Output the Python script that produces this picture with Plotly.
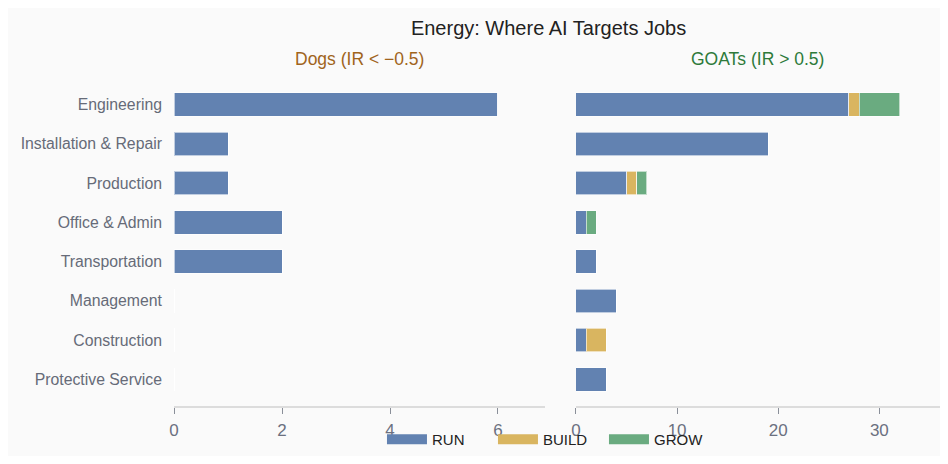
import plotly.graph_objects as go
from plotly.subplots import make_subplots

categories = ["Engineering", "Installation & Repair", "Production", "Office & Admin",
              "Transportation", "Management", "Construction", "Protective Service"]

dogs_run = [6, 1, 1, 2, 2, 0, 0, 0]
dogs_build = [0, 0, 0, 0, 0, 0, 0, 0]
dogs_grow = [0, 0, 0, 0, 0, 0, 0, 0]

goats_run = [27, 19, 5, 1, 2, 4, 1, 3]
goats_build = [1, 0, 1, 0, 0, 0, 2, 0]
goats_grow = [4, 0, 1, 1, 0, 0, 0, 0]

series_names = ["RUN", "BUILD", "GROW"]
colors = {"RUN": "#6282b1", "BUILD": "#d9b560", "GROW": "#6aab80"}

fig = make_subplots(rows=1, cols=2, shared_yaxes=False, horizontal_spacing=0.04,
                    subplot_titles=("Dogs (IR < \u22120.5)", "GOATs (IR > 0.5)"))

panels = [(1, [dogs_run, dogs_build, dogs_grow]), (2, [goats_run, goats_build, goats_grow])]
for col, vals in panels:
    for name, v in zip(series_names, vals):
        fig.add_trace(go.Bar(
            y=categories, x=v, name=name, orientation="h",
            marker=dict(color=colors[name], line=dict(color="rgba(255,255,255,0.6)", width=1)),
            showlegend=False, hovertemplate="%{y}: %{x}<extra>" + name + "</extra>"),
            row=1, col=col)

for name in series_names:
    fig.add_trace(go.Scatter(x=[None], y=[None], mode="lines", name=name,
                             line=dict(color=colors[name], width=11)), row=1, col=1)

fig.update_layout(
    barmode="stack", bargap=0.4,
    paper_bgcolor="#fafafa", plot_bgcolor="#fafafa",
    font=dict(family="Liberation Sans, Arial, sans-serif", color="#6b7080"),
    title=dict(text="Energy: Where AI Targets Jobs", x=0.58, xanchor="center", y=0.972,
               font=dict(size=20, color="#222222")),
    margin=dict(l=166, r=0, t=77, b=49),
    legend=dict(orientation="h", x=0.2715, xanchor="left", y=-0.103, yanchor="middle",
                traceorder="normal", entrywidth=56,
                font=dict(size=15, color="#222222"), itemwidth=40, bgcolor="rgba(0,0,0,0)"),
    xaxis=dict(domain=[0, 0.4843]),
    xaxis2=dict(domain=[0.5248, 1.0]),
)

fig.layout.annotations[0].update(font=dict(size=17.5, color="#a0641c"), yshift=14,
                                 x=(0 + 0.4843) / 2)
fig.layout.annotations[1].update(font=dict(size=17.5, color="#2e7a3a"), yshift=14,
                                 x=(0.5248 + 1.0) / 2)

for c, rng in [(1, [0, 6.87]), (2, [0, 36.0])]:
    fig.update_xaxes(range=rng, showgrid=False, zeroline=False, showline=True,
                     linecolor="#dcdcdc", linewidth=2, ticks="outside", ticklen=6,
                     tickcolor="#8a8f99", tickfont=dict(size=17, color="#6b7080"),
                     ticklabelstandoff=2, row=1, col=c)
    fig.update_yaxes(categoryorder="array", categoryarray=categories,
                     range=[7.68, -0.5], showgrid=False, zeroline=False, showline=False,
                     ticks="", row=1, col=c)

fig.update_yaxes(tickfont=dict(size=15.8, color="#666b78"), ticklabelstandoff=11, row=1, col=1)
fig.update_yaxes(showticklabels=False, row=1, col=2)

fig.write_html("out.html")
